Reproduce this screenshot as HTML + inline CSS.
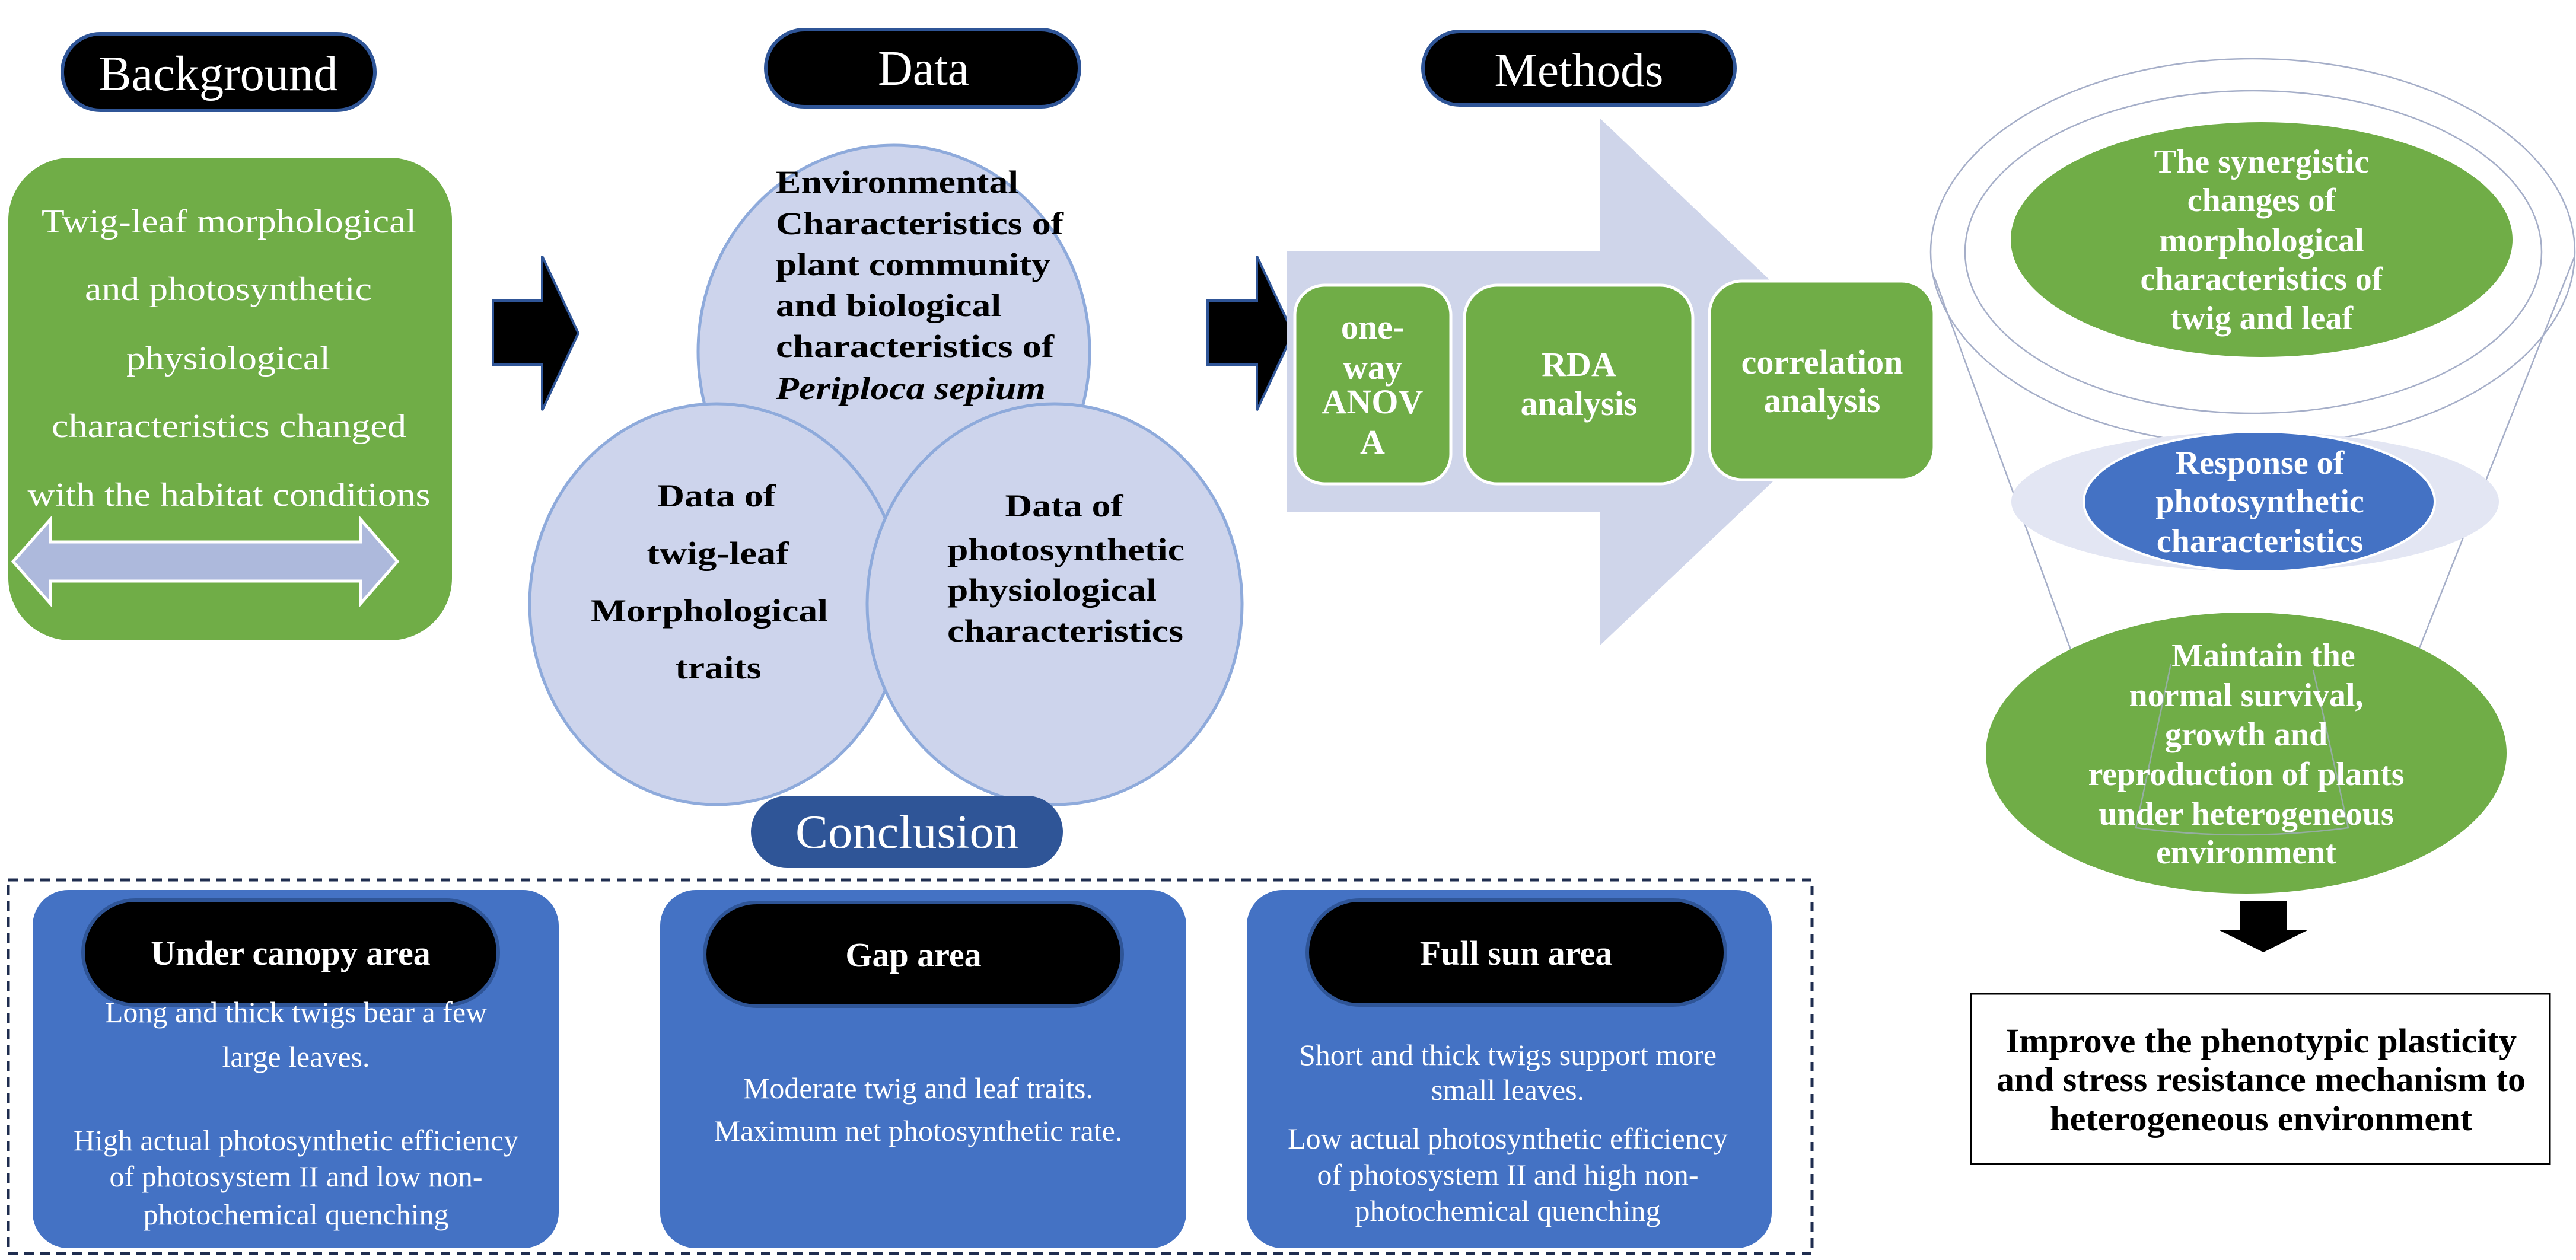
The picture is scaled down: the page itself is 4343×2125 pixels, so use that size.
<!DOCTYPE html>
<html><head><meta charset="utf-8"><style>html,body{margin:0;padding:0;background:#fff}svg{display:block}</style></head>
<body>
<svg width="4343" height="2125" viewBox="0 0 4343 2125" xmlns="http://www.w3.org/2000/svg" font-family="'Liberation Serif', serif">
<!-- Title pills -->
<rect x="105" y="57" width="527" height="129" rx="64" fill="#000" stroke="#2f5597" stroke-width="6"/>
<text x="368" y="152" font-size="84" fill="#fff" text-anchor="middle" textLength="403" lengthAdjust="spacingAndGlyphs">Background</text>
<rect x="1291" y="50" width="529" height="130" rx="65" fill="#000" stroke="#2f5597" stroke-width="6"/>
<text x="1557" y="143" font-size="84" fill="#fff" text-anchor="middle" textLength="154" lengthAdjust="spacingAndGlyphs">Data</text>
<rect x="2399" y="53" width="526" height="124" rx="62" fill="#000" stroke="#2f5597" stroke-width="6"/>
<text x="2662" y="145" font-size="80" fill="#fff" text-anchor="middle" textLength="285" lengthAdjust="spacingAndGlyphs">Methods</text>

<!-- Background green box -->
<rect x="14" y="266" width="748" height="814" rx="105" fill="#70ad47"/>
<g fill="#fff" font-size="56" text-anchor="middle">
<text x="386" y="392" textLength="632" lengthAdjust="spacingAndGlyphs">Twig-leaf morphological</text>
<text x="385" y="506" textLength="484" lengthAdjust="spacingAndGlyphs">and photosynthetic</text>
<text x="385" y="623" textLength="344" lengthAdjust="spacingAndGlyphs">physiological</text>
<text x="386" y="737" textLength="598" lengthAdjust="spacingAndGlyphs">characteristics changed</text>
<text x="386" y="853" textLength="679" lengthAdjust="spacingAndGlyphs">with the habitat conditions</text>
</g>
<polygon points="22,947 85,876 85,914 608,914 608,876 670,947 608,1018 608,980 85,980 85,1018" fill="#adb9dc" stroke="#fff" stroke-width="5"/>

<!-- Black arrows -->
<polygon points="831,507 914,507 914,432 975,562 914,692 914,615 831,615" fill="#000" stroke="#2f5597" stroke-width="4"/>
<polygon points="2036,507 2119,507 2119,432 2180,562 2119,692 2119,615 2036,615" fill="#000" stroke="#2f5597" stroke-width="4"/>

<!-- Data circles -->
<g fill="#cdd4ec" stroke="#8eaadb" stroke-width="5">
<ellipse cx="1507" cy="593" rx="330" ry="348"/>
<ellipse cx="1208" cy="1019" rx="315" ry="338"/>
<ellipse cx="1778" cy="1019" rx="316" ry="338"/>
</g>
<path d="M1508 1017 A315 338 0 0 0 1508 1021" fill="none"/>
<g font-size="54" font-weight="bold" fill="#000">
<text x="1308" y="325" textLength="409" lengthAdjust="spacingAndGlyphs">Environmental</text>
<text x="1308" y="395" textLength="485" lengthAdjust="spacingAndGlyphs">Characteristics of</text>
<text x="1308" y="464" textLength="463" lengthAdjust="spacingAndGlyphs">plant community</text>
<text x="1308" y="533" textLength="380" lengthAdjust="spacingAndGlyphs">and biological</text>
<text x="1308" y="602" textLength="469" lengthAdjust="spacingAndGlyphs">characteristics of</text>
<text x="1308" y="673" font-style="italic" textLength="455" lengthAdjust="spacingAndGlyphs">Periploca sepium</text>
<g text-anchor="middle">
<text x="1208" y="854" textLength="200" lengthAdjust="spacingAndGlyphs">Data of</text>
<text x="1210" y="951" textLength="239" lengthAdjust="spacingAndGlyphs">twig-leaf</text>
<text x="1196" y="1048" textLength="400" lengthAdjust="spacingAndGlyphs">Morphological</text>
<text x="1211" y="1144" textLength="145" lengthAdjust="spacingAndGlyphs">traits</text>
<text x="1794" y="871" textLength="199" lengthAdjust="spacingAndGlyphs">Data of</text>
</g>
<text x="1597" y="945" textLength="400" lengthAdjust="spacingAndGlyphs">photosynthetic</text>
<text x="1597" y="1013" textLength="353" lengthAdjust="spacingAndGlyphs">physiological</text>
<text x="1597" y="1082" textLength="398" lengthAdjust="spacingAndGlyphs">characteristics</text>
</g>

<!-- Methods big arrow -->
<polygon points="2169,423 2698,423 2698,200 3165,645 2698,1088 2698,864 2169,864" fill="#cfd5ea"/>
<g fill="#70ad47" stroke="#fff" stroke-width="5">
<rect x="2183" y="481" width="263" height="335" rx="50"/>
<rect x="2469" y="481" width="385" height="335" rx="55"/>
<rect x="2882" y="474" width="379" height="335" rx="55"/>
</g>
<g fill="#fff" font-size="58" font-weight="bold" text-anchor="middle">
<text x="2314" y="571">one-</text>
<text x="2314" y="639">way</text>
<text x="2314" y="697">ANOV</text>
<text x="2314" y="765">A</text>
<text x="2662" y="634">RDA</text>
<text x="2662" y="700">analysis</text>
<text x="3072" y="630">correlation</text>
<text x="3072" y="695">analysis</text>
</g>

<!-- Funnel -->
<g fill="none" stroke="#a5aec8" stroke-width="2.5">
<ellipse cx="3798" cy="425" rx="543" ry="326"/>
<ellipse cx="3799" cy="425" rx="486" ry="272"/>
<path d="M3261 467 L3601 1396 Q3780 1420 3959 1396 L4340 434"/>
</g>
<ellipse cx="3813" cy="404" rx="423" ry="198" fill="#70ad47"/>
<g fill="#fff" font-size="56" font-weight="bold" text-anchor="middle">
<text x="3813" y="291">The synergistic</text>
<text x="3813" y="356">changes of</text>
<text x="3813" y="424">morphological</text>
<text x="3813" y="489">characteristics of</text>
<text x="3813" y="555">twig and leaf</text>
</g>
<ellipse cx="3802" cy="846" rx="411" ry="118" fill="#e3e6f3"/>
<ellipse cx="3809" cy="846" rx="296" ry="118" fill="#4472c4" stroke="#fff" stroke-width="4"/>
<g fill="#fff" font-size="56" font-weight="bold" text-anchor="middle">
<text x="3810" y="799">Response of</text>
<text x="3810" y="864">photosynthetic</text>
<text x="3810" y="931">characteristics</text>
</g>
<ellipse cx="3787" cy="1270" rx="439" ry="237" fill="#70ad47"/>
<path d="M3660 1120 L3601 1396 Q3780 1420 3959 1396 L3900 1130" fill="none" stroke="#a5aec8" stroke-width="2.5" opacity="0.7"/>
<g fill="#fff" font-size="56" font-weight="bold" text-anchor="middle">
<text x="3816" y="1124">Maintain the</text>
<text x="3787" y="1191">normal survival,</text>
<text x="3787" y="1257">growth and</text>
<text x="3787" y="1324">reproduction of plants</text>
<text x="3787" y="1391">under heterogeneous</text>
<text x="3787" y="1456">environment</text>
</g>
<polygon points="3776,1520 3856,1520 3856,1569 3890,1569 3816,1606 3742,1569 3776,1569" fill="#000"/>
<rect x="3323" y="1676" width="976" height="287" fill="#fff" stroke="#000" stroke-width="3"/>
<g fill="#000" font-size="58" font-weight="bold" text-anchor="middle">
<text x="3812" y="1775" textLength="862" lengthAdjust="spacingAndGlyphs">Improve the phenotypic plasticity</text>
<text x="3812" y="1840" textLength="892" lengthAdjust="spacingAndGlyphs">and stress resistance mechanism to</text>
<text x="3812" y="1906" textLength="712" lengthAdjust="spacingAndGlyphs">heterogeneous environment</text>
</g>

<!-- Conclusion -->
<rect x="14" y="1484" width="3041" height="630" fill="none" stroke="#1f2d4f" stroke-width="5" stroke-dasharray="16,11"/>
<rect x="1266" y="1342" width="526" height="122" rx="61" fill="#2f5597"/>
<text x="1529" y="1430" font-size="80" fill="#fff" text-anchor="middle" textLength="376" lengthAdjust="spacingAndGlyphs">Conclusion</text>
<g fill="#4472c4">
<rect x="55" y="1501" width="887" height="604" rx="60"/>
<rect x="1113" y="1501" width="887" height="604" rx="60"/>
<rect x="2102" y="1501" width="885" height="604" rx="60"/>
</g>
<g fill="#000" stroke="#2f5597" stroke-width="6">
<rect x="140" y="1518" width="700" height="177" rx="88"/>
<rect x="1188" y="1522" width="704" height="175" rx="88"/>
<rect x="2204" y="1518" width="705" height="177" rx="88"/>
</g>
<g fill="#fff" font-size="58" font-weight="bold" text-anchor="middle">
<text x="490" y="1627">Under canopy area</text>
<text x="1540" y="1630">Gap area</text>
<text x="2556" y="1627">Full sun area</text>
</g>
<g fill="#fff" font-size="50" text-anchor="middle">
<text x="499" y="1724">Long and thick twigs bear a few</text>
<text x="499" y="1799">large leaves.</text>
<text x="499" y="1940">High actual photosynthetic efficiency</text>
<text x="499" y="2001">of photosystem II and low non-</text>
<text x="499" y="2065">photochemical quenching</text>
<text x="1548" y="1852">Moderate twig and leaf traits.</text>
<text x="1548" y="1924">Maximum net photosynthetic rate.</text>
<text x="2542" y="1796">Short and thick twigs support more</text>
<text x="2542" y="1855">small leaves.</text>
<text x="2542" y="1937">Low actual photosynthetic efficiency</text>
<text x="2542" y="1998">of photosystem II and high non-</text>
<text x="2542" y="2059">photochemical quenching</text>
</g>
</svg>
</body></html>
